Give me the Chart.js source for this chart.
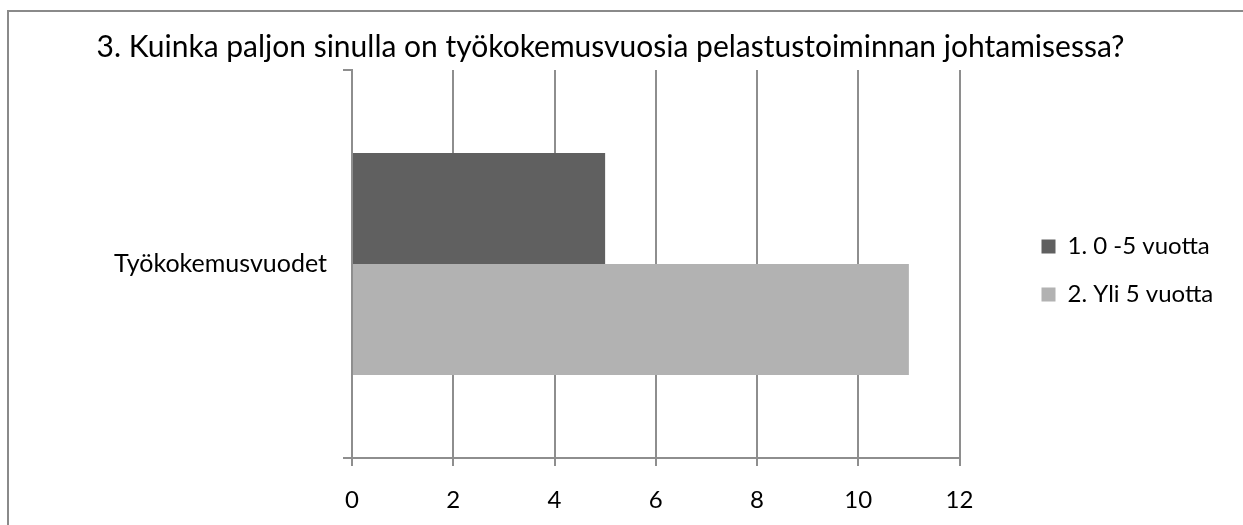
<!DOCTYPE html>
<html>
<head>
<meta charset="utf-8">
<script src="https://cdn.jsdelivr.net/npm/chart.js@4/dist/chart.umd.min.js"></script>
<style>
  html, body { margin: 0; padding: 0; background: #ffffff; overflow: hidden; }
  canvas { display: block; }
</style>
</head>
<body>
<canvas id="c" width="1243" height="525"></canvas>
<script>
const titleText = '3. Kuinka paljon sinulla on työkokemusvuosia pelastustoiminnan johtamisessa?';
const categories = ['Työkokemusvuodet'];
const seriesNames = ['1. 0 -5 vuotta', '2. Yli 5 vuotta'];
const series1 = [5];
const series2 = [11];
const xTicks = [0, 2, 4, 6, 8, 10, 12];
const seriesColors = ['#606060', '#b2b2b2'];

const gridColor = '#8e8e8e';

const framePlugin = {
  id: 'frame',
  beforeDraw(chart) {
    const ctx = chart.ctx;
    ctx.save();
    ctx.fillStyle = '#ffffff';
    ctx.fillRect(0, 0, chart.width, chart.height);
    ctx.strokeStyle = '#8a8a8a';
    ctx.lineWidth = 2;
    ctx.beginPath();
    ctx.moveTo(8, chart.height);
    ctx.lineTo(8, 11);
    ctx.lineTo(chart.width, 11);
    ctx.stroke();
    ctx.restore();
  }
};

new Chart(document.getElementById('c'), {
  type: 'bar',
  data: {
    labels: categories,
    datasets: [
      { label: seriesNames[0], data: series1, backgroundColor: seriesColors[0], borderWidth: 0 },
      { label: seriesNames[1], data: series2, backgroundColor: seriesColors[1], borderWidth: 0 }
    ]
  },
  options: {
    indexAxis: 'y',
    responsive: false,
    animation: false,
    devicePixelRatio: 1,
    layout: { padding: { left: 0, right: 22, top: 0, bottom: 0 } },
    datasets: { bar: { categoryPercentage: 0.572, barPercentage: 1 } },
    plugins: {
      title: {
        display: true,
        text: titleText,
        color: '#000000',
        font: { family: 'Lato', size: 30, weight: 'normal', lineHeight: '36px' },
        padding: { top: 29, bottom: 5 }
      },
      legend: {
        position: 'right',
        align: 'center',
        fullSize: false,
        title: { display: true, text: '', font: { size: 1, lineHeight: '1px' }, padding: { top: 6, bottom: 6 } },
        labels: {
          boxWidth: 14,
          boxHeight: 14,
          padding: 24,
          color: '#000000',
          font: { family: 'Lato', size: 24 }
        }
      },
      tooltip: { enabled: false }
    },
    scales: {
      x: {
        min: 0,
        max: 12,
        afterBuildTicks(scale) { scale.ticks = xTicks.map(v => ({ value: v })); },
        afterFit(scale) { scale.height = 67; },
        grid: { color: gridColor, lineWidth: 2, tickLength: 8, drawTicks: true },
        border: { display: true, color: gridColor, width: 2 },
        ticks: { color: '#000000', font: { family: 'Lato', size: 24 }, padding: 20, maxRotation: 0 }
      },
      y: {
        afterFit(scale) { scale.width = 352; },
        grid: { drawOnChartArea: false, drawTicks: true, tickLength: 9, color: gridColor, lineWidth: 2 },
        border: { display: true, color: gridColor, width: 2 },
        ticks: { color: '#000000', font: { family: 'Lato', size: 25 }, padding: 16 }
      },
      gap: {
        type: 'linear',
        position: 'right',
        display: true,
        grid: { display: false },
        ticks: { display: false },
        border: { display: false },
        afterFit(scale) { scale.width = 58; }
      }
    }
  },
  plugins: [framePlugin]
});
</script>
</body>
</html>
